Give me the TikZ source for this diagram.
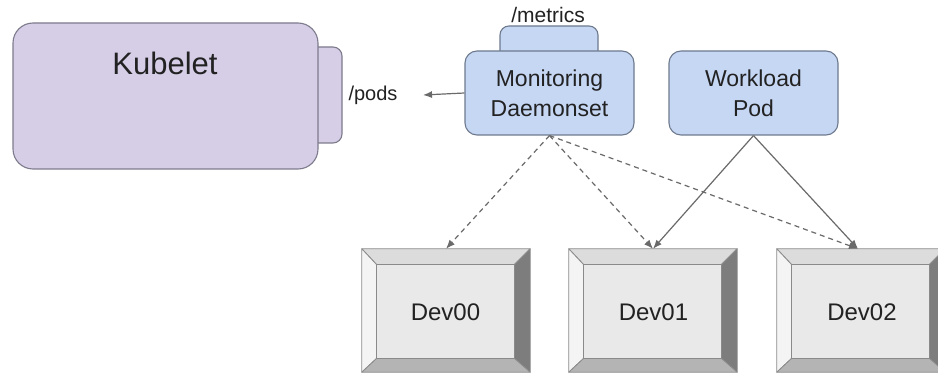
\documentclass[tikz,border=0pt]{standalone}
\usepackage{fontspec}
\setmainfont{Liberation Sans}
\usetikzlibrary{arrows.meta,backgrounds}

\definecolor{kubefill}{HTML}{D6CEE7}
\definecolor{kubeline}{HTML}{7E7B8C}
\definecolor{podfill}{HTML}{C6D7F4}
\definecolor{podline}{HTML}{6E7A8E}
\definecolor{devface}{HTML}{E9E9E9}
\definecolor{devtop}{HTML}{DCDCDC}
\definecolor{devleft}{HTML}{F4F4F4}
\definecolor{devright}{HTML}{7D7D7D}
\definecolor{devbottom}{HTML}{B4B4B4}
\definecolor{devline}{HTML}{8A8A8A}
\definecolor{arrowgray}{HTML}{6A6A6A}
\definecolor{txt}{HTML}{222222}

\tikzset{
  kubebox/.style={draw=kubeline, fill=kubefill, line width=1.1pt, rounded corners=20pt},
  kubetab/.style={draw=kubeline, fill=kubefill, line width=1.1pt, rounded corners=9pt},
  podbox/.style={draw=podline, fill=podfill, line width=1.1pt, rounded corners=12pt,
    align=center, text=txt, font=\fontsize{23}{30}\selectfont, inner sep=0pt},
  podtab/.style={draw=podline, fill=podfill, line width=1.1pt, rounded corners=9pt},
  devbox/.style={inner sep=0pt, minimum width=168pt, minimum height=123pt},
  devlabel/.style={text=txt, font=\fontsize{24}{28}\selectfont, anchor=base},
  bev/.style={draw=devline, line width=0.8pt, line join=round},
  lbl/.style={text=txt, font=\fontsize{20}{24}\selectfont},
  link/.style={draw=arrowgray, line width=1.2pt, -{Latex[length=9pt,width=7pt]}},
  linkdash/.style={link, dash pattern=on 5pt off 4pt},
}

% bevelled key: faces drawn behind the named node
\newcommand\bevelkey[1]{%
  \begin{scope}[on background layer]
    \fill[devface] (#1.north west) rectangle (#1.south east);
    \path[bev, fill=devtop] (#1.north west) -- (#1.north east)
      -- ([shift={(-16,16)}]#1.north east) -- ([shift={(15,16)}]#1.north west) -- cycle;
    \path[bev, fill=devleft] (#1.north west) -- ([shift={(15,16)}]#1.north west)
      -- ([shift={(15,-14)}]#1.south west) -- (#1.south west) -- cycle;
    \path[bev, fill=devright] (#1.north east) -- (#1.south east)
      -- ([shift={(-16,-14)}]#1.south east) -- ([shift={(-16,16)}]#1.north east) -- cycle;
    \path[bev, fill=devbottom] (#1.south west) -- ([shift={(15,-14)}]#1.south west)
      -- ([shift={(-16,-14)}]#1.south east) -- (#1.south east) -- cycle;
    \draw[bev, fill=devface] ([shift={(15,16)}]#1.north west) rectangle ([shift={(-16,-14)}]#1.south east);
  \end{scope}}

\begin{document}
\begin{tikzpicture}[x=1pt, y=-1pt]
  \clip (0,0) rectangle (938,374);
  \begin{scope}[on background layer]
    \fill[white] (0,0) rectangle (938,374);
  \end{scope}

  % Kubelet with its /pods port
  \draw[kubetab] (300,47) rectangle (342,143);
  \draw[kubebox] (13,23) rectangle (318,169);
  \node[text=txt, font=\fontsize{31}{36}\selectfont, anchor=base] (kubelet) at (165,75) {Kubelet};
  \node[lbl, anchor=base west] (pods) at (345,101) {/pods};

  % Monitoring daemonset with its /metrics endpoint
  \draw[podtab] (500,26) rectangle (598,62);
  \node[lbl, font=\fontsize{21}{24}\selectfont, anchor=base] (metrics) at (548,23) {/metrics};
  \node[podbox, minimum width=169pt, minimum height=84pt] (mon) at (549.5,93) {Monitoring\\Daemonset};

  % Workload pod
  \node[podbox, minimum width=169pt, minimum height=84pt] (wl) at (753.5,93) {Workload\\Pod};

  % Devices
  \node[devbox] (d0) at (446,310.5) {};
  \node[devbox] (d1) at (653,310.5) {};
  \node[devbox] (d2) at (861,310.5) {};
  \bevelkey{d0}
  \bevelkey{d1}
  \bevelkey{d2}
  \node[devlabel] (d0t) at (445.5,321) {Dev00};
  \node[devlabel] (d1t) at (653.5,321) {Dev01};
  \node[devlabel] (d2t) at (862,321) {Dev02};

  % Connectors
  \coordinate (podsend) at (423,95);
  \draw[link] (mon.west) -- (podsend);
  \draw[linkdash] (mon.south) -- (d0.north);
  \draw[linkdash] (mon.south) -- (d1.north);
  \draw[linkdash] (mon.south) -- ([xshift=-3pt]d2.north);
  \draw[link] (wl.south) -- (d1.north);
  \draw[link] (wl.south) -- ([xshift=-3pt]d2.north);
\end{tikzpicture}
\end{document}
